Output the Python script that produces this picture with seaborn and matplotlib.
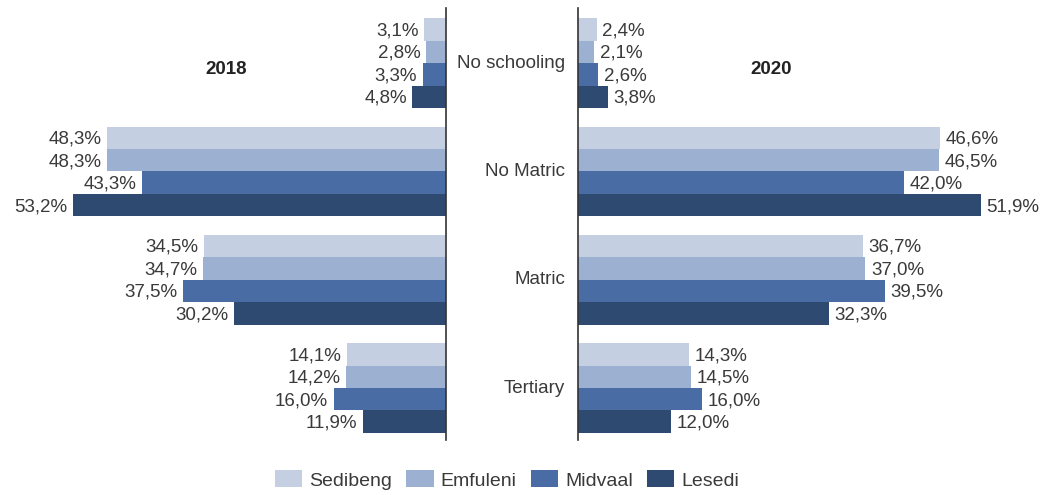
import matplotlib
matplotlib.use("Agg")
import matplotlib.pyplot as plt
from matplotlib.patches import Patch
from matplotlib.transforms import blended_transform_factory
import pandas as pd
import seaborn as sns

categories = ["No schooling", "No Matric", "Matric", "Tertiary"]
regions = ["Sedibeng", "Emfuleni", "Midvaal", "Lesedi"]

sedibeng_2018 = [3.1, 48.3, 34.5, 14.1]
emfuleni_2018 = [2.8, 48.3, 34.7, 14.2]
midvaal_2018 = [3.3, 43.3, 37.5, 16.0]
lesedi_2018 = [4.8, 53.2, 30.2, 11.9]

sedibeng_2020 = [2.4, 46.6, 36.7, 14.3]
emfuleni_2020 = [2.1, 46.5, 37.0, 14.5]
midvaal_2020 = [2.6, 42.0, 39.5, 16.0]
lesedi_2020 = [3.8, 51.9, 32.3, 12.0]

colors = ["#c5cfe2", "#9cb0d2", "#4a6ca4", "#2f4a71"]
text_color = "#3a3a3a"


def long_frame(series):
    rows = []
    for region, values in zip(regions, series):
        for cat, v in zip(categories, values):
            rows.append({"category": cat, "region": region, "value": v})
    return pd.DataFrame(rows)


df2018 = long_frame([sedibeng_2018, emfuleni_2018, midvaal_2018, lesedi_2018])
df2020 = long_frame([sedibeng_2020, emfuleni_2020, midvaal_2020, lesedi_2020])

sns.set_theme(style="white")
plt.rcParams["font.family"] = ["Liberation Sans", "DejaVu Sans"]

W, H = 1044, 495
fig = plt.figure(figsize=(W / 100, H / 100), dpi=100)

top_px, bottom_px = 8, 440
ax_l = fig.add_axes([0 / W, 1 - bottom_px / H, 446 / W, (bottom_px - top_px) / H])
ax_r = fig.add_axes([578 / W, 1 - bottom_px / H, 466 / W, (bottom_px - top_px) / H])


def fmt(v):
    return f"{v:.1f}%".replace(".", ",")


# left panel grows leftwards, right panel rightwards
for ax, df, lim, direction in [(ax_l, df2018, (63.6, 0), -1), (ax_r, df2020, (0, 60.0), 1)]:
    sns.barplot(data=df, y="category", x="value", hue="region", orient="h",
                order=categories, hue_order=regions, palette=colors,
                saturation=1, width=0.83, legend=False, linewidth=0,
                edgecolor="none", ax=ax)
    ax.set_xlim(*lim)
    ax.set_ylim(3.48, -0.51)
    for cont in ax.containers:
        for bar in cont:
            w = bar.get_width()
            yc = bar.get_y() + bar.get_height() / 2
            ax.annotate(fmt(w), xy=(w, yc), xytext=(4 * direction, -1),
                        textcoords="offset points",
                        ha="left" if direction > 0 else "right", va="center",
                        fontsize=13.5, color=text_color)
    ax.set_xlabel("")
    ax.set_ylabel("")
    ax.set_xticks([])
    ax.set_yticks([])
    for s in ax.spines.values():
        s.set_visible(False)

ax_l.spines["right"].set_visible(True)
ax_r.spines["left"].set_visible(True)
for s in (ax_l.spines["right"], ax_r.spines["left"]):
    s.set_color("#333333")
    s.set_linewidth(1.2)

# category names between the two panels
tr = blended_transform_factory(fig.transFigure, ax_l.transData)
for i, cat in enumerate(categories):
    fig.text(565 / W, i, cat, transform=tr, ha="right", va="center",
             fontsize=13.5, color=text_color)

# year titles
fig.text(226 / W, 1 - 70 / H, "2018", ha="center", va="center",
         fontsize=13.5, fontweight="bold", color="#222222")
fig.text(771 / W, 1 - 70 / H, "2020", ha="center", va="center",
         fontsize=13.5, fontweight="bold", color="#222222")

handles = [Patch(facecolor=c, edgecolor="none", label=r) for c, r in zip(colors, regions)]
fig.legend(handles=handles, loc="center", bbox_to_anchor=(507 / W, 1 - 480 / H),
           ncol=4, frameon=False, fontsize=14, handlelength=1.4, handleheight=0.95,
           handletextpad=0.35, columnspacing=0.75, labelcolor=text_color)

fig.savefig("out.png", dpi=100)
